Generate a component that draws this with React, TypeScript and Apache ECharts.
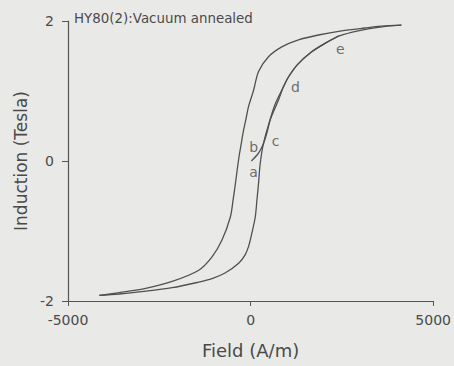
import React, { useEffect, useRef } from "react";
import * as echarts from "echarts";

const titleText = "HY80(2):Vacuum annealed";
const xName = "Field (A/m)";
const yName = "Induction (Tesla)";

// Descending branch of the outer loop (field A/m, induction T)
const descendingH = [4130, 3674, 3129, 2491, 1855, 1310, 855, 491, 218, 82, -55, -130, -200, -265, -320, -360, -410, -480, -554, -783, -1056, -1419, -2147, -2873, -3601, -4140];
const descendingB = [1.94, 1.93, 1.9, 1.86, 1.8, 1.73, 1.63, 1.49, 1.28, 1.01, 0.78, 0.59, 0.42, 0.22, 0.05, -0.1, -0.3, -0.56, -0.8, -1.13, -1.37, -1.56, -1.72, -1.82, -1.88, -1.92];

// Ascending branch of the outer loop
const ascendingH = [-4140, -3601, -3055, -2147, -1419, -1056, -700, -327, -150, -55, 40, 128, 175, 218, 250, 285, 325, 380, 455, 537, 640, 764, 900, 1037, 1290, 1673, 2037, 2447, 2946, 3492, 4130];
const ascendingB = [-1.92, -1.9, -1.87, -1.81, -1.73, -1.68, -1.6, -1.46, -1.34, -1.22, -1.02, -0.8, -0.55, -0.32, -0.1, 0.05, 0.18, 0.31, 0.45, 0.59, 0.72, 0.87, 1.06, 1.2, 1.38, 1.56, 1.68, 1.79, 1.86, 1.91, 1.94];

// Initial magnetization curve
const initialH = [20, 200, 330, 445, 540, 680, 900, 1037, 1290, 1673, 2037, 2420];
const initialB = [0, 0.1, 0.22, 0.4, 0.6, 0.82, 1.06, 1.2, 1.38, 1.56, 1.68, 1.79];

// Point labels
const pointNames = ["a", "b", "c", "d", "e"];
const pointH = [82, 82, 682, 1228, 2455];
const pointB = [-0.16, 0.2, 0.29, 1.06, 1.6];

const xTicks = { min: -5000, max: 5000, interval: 5000 };
const yTicks = { min: -2, max: 2, interval: 2 };

const zip = (a: number[], b: number[]) => a.map((v, i) => [v, b[i]]);

export default function App() {
  const ref = useRef<HTMLDivElement>(null);
  useEffect(() => {
    document.body.style.margin = "0";
    document.body.style.background = "#e9e9e7";
    const chart = echarts.init(ref.current!, undefined, { renderer: "svg" });
    const font = "DejaVu Sans";
    const ink = "#4a4a4a";
    const lineStyle = { color: "#505050", width: 1.3 };
    chart.setOption({
      animation: false,
      backgroundColor: "#e9e9e7",
      title: {
        text: titleText,
        left: 74,
        top: 12,
        padding: 0,
        textStyle: { fontFamily: font, fontSize: 13.4, fontWeight: "normal", color: ink },
      },
      grid: { left: 68, right: 19, top: 21, bottom: 65, containLabel: false },
      xAxis: {
        type: "value",
        ...xTicks,
        name: xName,
        nameLocation: "middle",
        nameGap: 40,
        nameTextStyle: { fontFamily: font, fontSize: 18, color: ink },
        axisLine: { onZero: false, lineStyle: { color: "#555", width: 1.2 } },
        axisTick: { show: true, length: 5, lineStyle: { color: "#555" } },
        axisLabel: {
          fontFamily: font,
          fontSize: 14,
          color: ink,
          margin: 12,
          formatter: (v: number) => String(v),
        },
        splitLine: { show: false },
      },
      yAxis: {
        type: "value",
        ...yTicks,
        name: yName,
        nameLocation: "middle",
        nameGap: 39,
        nameTextStyle: { fontFamily: font, fontSize: 17, color: ink },
        axisLine: { show: true, onZero: false, lineStyle: { color: "#555", width: 1.2 } },
        axisTick: { show: true, length: 6, lineStyle: { color: "#555" } },
        axisLabel: {
          fontFamily: font,
          fontSize: 14,
          color: ink,
          margin: 14,
          formatter: (v: number) => String(v),
        },
        splitLine: { show: false },
      },
      series: [
        {
          type: "line",
          data: zip(descendingH, descendingB),
          smooth: 0.3,
          showSymbol: false,
          lineStyle,
        },
        {
          type: "line",
          data: zip(ascendingH, ascendingB),
          smooth: 0.3,
          showSymbol: false,
          lineStyle,
        },
        {
          type: "line",
          data: zip(initialH, initialB),
          smooth: 0.3,
          showSymbol: false,
          lineStyle,
        },
        {
          type: "scatter",
          symbolSize: 0,
          data: pointNames.map((n, i) => ({ name: n, value: [pointH[i], pointB[i]] })),
          label: {
            show: true,
            position: "inside",
            formatter: (p: any) => p.name,
            fontFamily: font,
            fontSize: 14,
            color: ink,
          },
        },
      ],
    });
    return () => chart.dispose();
  }, []);
  return (
    <div
      ref={ref}
      style={{ position: "fixed", left: 0, top: 0, width: 454, height: 366 }}
    />
  );
}
